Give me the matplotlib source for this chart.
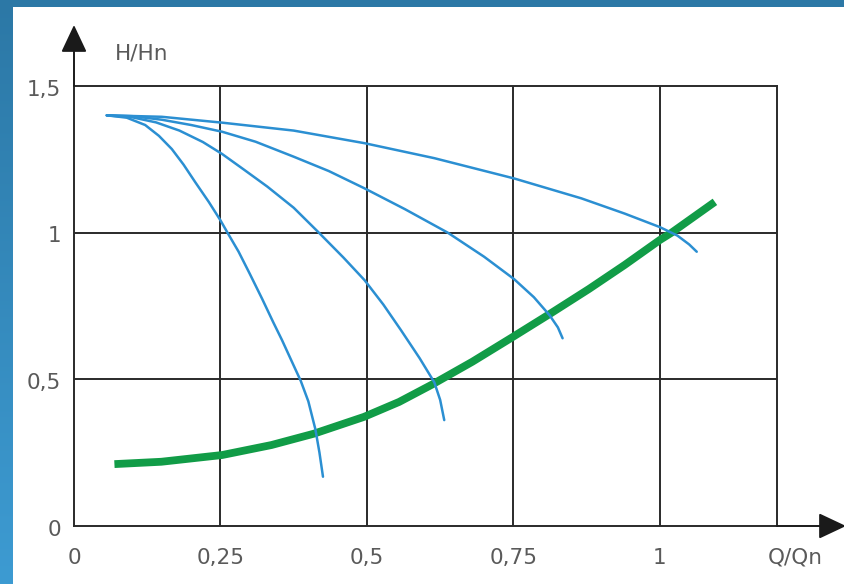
import numpy as np
import matplotlib
matplotlib.use("Agg")
import matplotlib.pyplot as plt
from matplotlib.colors import LinearSegmentedColormap

# ---- data ----
q1 = [0.056, 0.09, 0.1215, 0.145, 0.167, 0.187, 0.207, 0.23, 0.25, 0.262, 0.281, 0.30,
      0.321, 0.34, 0.355, 0.372, 0.387, 0.40, 0.412, 0.419, 0.425]
h1 = [1.40, 1.392, 1.367, 1.33, 1.285, 1.232, 1.172, 1.105, 1.042, 1.00, 0.935, 0.86,
      0.775, 0.695, 0.634, 0.56, 0.495, 0.425, 0.33, 0.25, 0.168]

q2 = [0.056, 0.10, 0.14, 0.18, 0.22, 0.253, 0.29, 0.33, 0.375, 0.418, 0.46, 0.496,
      0.528, 0.558, 0.59, 0.615, 0.625, 0.632]
h2 = [1.40, 1.393, 1.376, 1.348, 1.309, 1.268, 1.215, 1.157, 1.085, 1.00, 0.915, 0.838,
      0.755, 0.668, 0.572, 0.49, 0.43, 0.361]

q3 = [0.056, 0.10, 0.15, 0.20, 0.253, 0.31, 0.375, 0.435, 0.496, 0.565, 0.638, 0.70,
      0.751, 0.785, 0.812, 0.826, 0.834]
h3 = [1.40, 1.397, 1.385, 1.367, 1.344, 1.31, 1.259, 1.21, 1.151, 1.08, 1.00, 0.918,
      0.842, 0.78, 0.718, 0.677, 0.64]

q4 = [0.056, 0.15, 0.253, 0.375, 0.496, 0.615, 0.751, 0.866, 0.94, 1.0, 1.03, 1.05, 1.063]
h4 = [1.40, 1.395, 1.375, 1.348, 1.305, 1.254, 1.185, 1.117, 1.065, 1.019, 0.99, 0.96, 0.935]

qs = [0.069, 0.149, 0.253, 0.337, 0.41, 0.495, 0.555, 0.611, 0.68, 0.747, 0.813, 0.879,
      0.94, 1.0, 1.02, 1.094]
hs = [0.211, 0.219, 0.242, 0.276, 0.315, 0.372, 0.423, 0.482, 0.56, 0.642, 0.724, 0.808,
      0.89, 0.975, 1.0, 1.105]

xticks = [0, 0.25, 0.5, 0.75, 1.0]
xticklabels = ["0", "0,25", "0,5", "0,75", "1"]
yticks = [0, 0.5, 1.0, 1.5]
yticklabels = ["0", "0,5", "1", "1,5"]

W, H = 844, 584
fig = plt.figure(figsize=(W / 100, H / 100), dpi=100)
fig.patch.set_facecolor("white")

# blue frame: left gradient band and top band
band = fig.add_axes([0, 0, 13 / W, 1])
grad = np.linspace(0, 1, 256).reshape(-1, 1)
cm = LinearSegmentedColormap.from_list("b", ["#2c78a6", "#3d9bd2"])
band.imshow(grad, aspect="auto", cmap=cm, extent=[0, 1, 0, 1], origin="upper")
band.axis("off")
top = fig.add_axes([0, 1 - 7 / H, 1, 7 / H])
top.set_facecolor("#2c78a6")
top.set_xticks([]); top.set_yticks([])
for s in top.spines.values():
    s.set_visible(False)

ax = fig.add_axes([74 / W, 1 - 526 / H, (777 - 74) / W, (526 - 86) / H])
ax.set_xlim(0, 1.2)
ax.set_ylim(0, 1.5)

gc = "#2a2a2a"
for s in ax.spines.values():
    s.set_color(gc)
    s.set_linewidth(1.4)
for x in [0.25, 0.5, 0.75, 1.0]:
    ax.axvline(x, color=gc, lw=1.4, zorder=1)
for y in [0.5, 1.0]:
    ax.axhline(y, color=gc, lw=1.4, zorder=1)

ax.set_xticks([]); ax.set_yticks([])

tc = "#5a5a5a"
fam = ["DejaVu Sans"]
fs = 15.5
for x, lab in zip(xticks, xticklabels):
    ax.text(x, -0.108, lab, ha="center", va="center", fontsize=fs, color=tc, family=fam)
for y, lab in zip(yticks, yticklabels):
    ax.text(-0.022, y - 0.012, lab, ha="right", va="center", fontsize=fs, color=tc, family=fam)
ax.text(1.184, -0.108, "Q/Qn", ha="left", va="center", fontsize=fs, color=tc, family=fam, clip_on=False)
ax.text(0.07, 1.61, "H/Hn", ha="left", va="center", fontsize=fs, color=tc, family=fam, clip_on=False)

# axis arrows
ap = dict(arrowstyle="-|>,head_length=0.85,head_width=0.4", mutation_scale=20,
          color="#1a1a1a", lw=1.4, shrinkA=0, shrinkB=0)
ax.annotate("", xy=(0, (526 - 25) / 440), xytext=(0, 1), xycoords="axes fraction",
            textcoords="axes fraction", arrowprops=ap, annotation_clip=False)
ax.annotate("", xy=((846 - 74) / 703, 0), xytext=(1, 0), xycoords="axes fraction",
            textcoords="axes fraction", arrowprops=ap, annotation_clip=False)

blue = "#2b8fd2"
green = "#119c47"
ax.plot(qs, hs, color=green, lw=5.6, solid_capstyle="butt", solid_joinstyle="round", zorder=3)
for q, h in [(q1, h1), (q2, h2), (q3, h3), (q4, h4)]:
    ax.plot(q, h, color=blue, lw=1.8, solid_capstyle="round", solid_joinstyle="round", zorder=4)

fig.savefig("out.png", dpi=100)
